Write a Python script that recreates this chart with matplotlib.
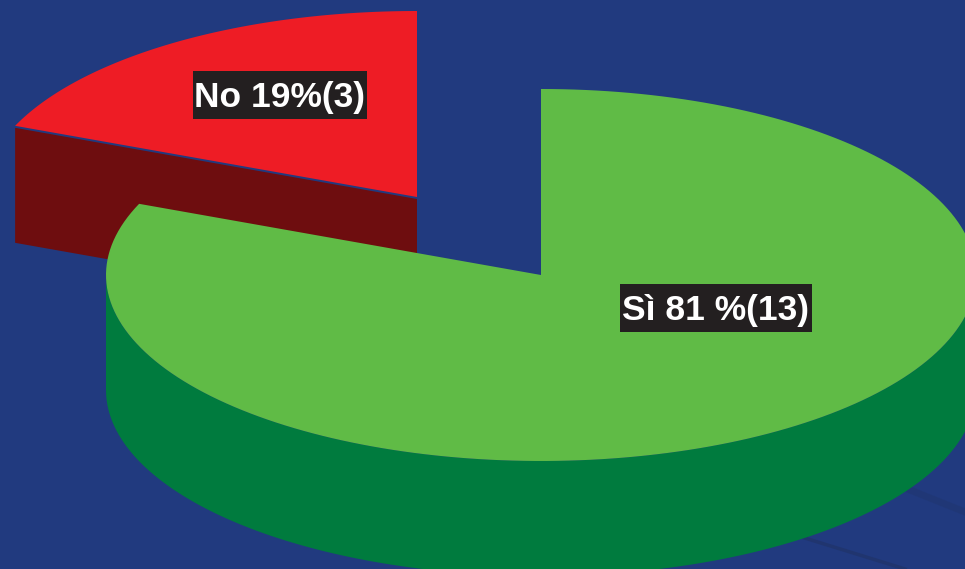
import numpy as np
from matplotlib import pyplot as plt
from matplotlib.patches import Polygon, Rectangle

labels = ["Sì 81 %(13)", "No 19%(3)"]
counts = [13, 3]

bg = "#213A7F"
top_colors = ["#60BB46", "#EE1C25"]
side_colors = ["#007B3E", "#6E0D0F"]
box_color = "#231F20"

# pie geometry, in pixels of the picture
rx, ry = 435, 186
depth = 115
green_c = (541, 275)
red_c = (417, 197)

split = 360 * counts[0] / sum(counts)


def rim(c, t0, t1, dy=0):
    # t is clockwise from 12 o'clock
    t = np.radians(np.linspace(t0, t1, 200))
    return np.column_stack([c[0] + rx * np.sin(t), c[1] - ry * np.cos(t) + dy])


fig = plt.figure(figsize=(9.65, 5.69), dpi=100, facecolor=bg)
ax = fig.add_axes([0, 0, 1, 1])
ax.set_xlim(0, 965)
ax.set_ylim(569, 0)
ax.axis("off")

# faint streaks in the background
ax.plot([795, 905], [535, 569], color="#20356F", lw=2.5, zorder=1)
ax.plot([910, 965], [490, 512], color="#20356F", lw=5, alpha=0.5, zorder=1)

# red slice, pulled out of the pie
edge = rim(red_c, split, split, dy=2)[0]
wall = [edge, (red_c[0], red_c[1] + 2), (red_c[0], red_c[1] + depth + 2), (edge[0], edge[1] + depth)]
ax.add_patch(Polygon(wall, closed=True, fc=side_colors[1], ec="none", zorder=2))
red_top = np.vstack([rim(red_c, split, 360), [red_c]])
ax.add_patch(Polygon(red_top, closed=True, fc=top_colors[1], ec="none", zorder=3))

# green slice
front = rim(green_c, 90, 270)
green_side = np.vstack([front, rim(green_c, 270, 90, dy=depth)])
ax.add_patch(Polygon(green_side, closed=True, fc=side_colors[0], ec="none", zorder=4))
green_top = np.vstack([rim(green_c, 0, split), [green_c]])
ax.add_patch(Polygon(green_top, closed=True, fc=top_colors[0], ec="none", zorder=5))

# labels on dark boxes
boxes = [(620, 284, 192, 48), (193, 71, 174, 48)]
for label, (x, y, w, h) in zip(labels, boxes):
    ax.add_patch(Rectangle((x, y), w, h, fc=box_color, ec="none", zorder=6))
    ax.text(x + w / 2, y + h / 2 + 2, label, color="white", fontsize=25.5, fontweight="bold",
            family="Liberation Sans", ha="center", va="center", zorder=7)

fig.savefig("out.png", dpi=100, facecolor=bg)
